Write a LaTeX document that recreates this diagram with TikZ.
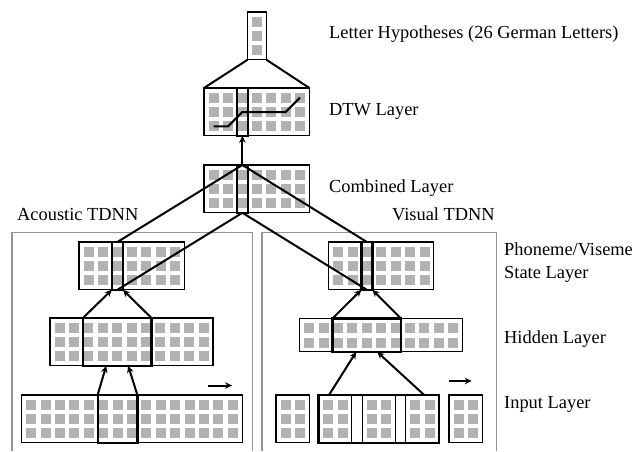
\documentclass[tikz,border=0pt]{standalone}
\usepackage{fontspec}
\setmainfont{Liberation Serif}
\usetikzlibrary{arrows.meta,positioning,fit,calc}

% a layer: box of gray units, top left corner at (x,y)
\newcommand{\unitgrid}[5]{% name, x, y, columns, rows
    \node[layerbox, minimum width={#4*14.4pt+4.6pt}, minimum height={#5*14.4pt+4.6pt}] (#1) at (#2,#3) {};
    \foreach \cx in {1,...,#4}{
        \foreach \ry in {1,...,#5}{
            \fill[unit] ($(#1.north west)+({(\cx-1)*14.4+4.6},{(\ry-1)*14.4+4.6})$) rectangle +(10,10);
        }
    }
}
% thick box round some columns of a layer
\newcommand{\pickcols}[4]{% name, layer, first column, last column
    \node[hilite, fit={($(#2.north west)+({(#3-1)*14.4+4.1},0)$) ($(#2.south west)+({(#4-1)*14.4+15.1},0)$)}] (#1) {};
}

\begin{document}
\begin{tikzpicture}[x=1pt, y=-1pt,
    layerbox/.style={draw, line width=1.1pt, fill=white, inner sep=0pt, outer sep=0pt, anchor=north west},
    unit/.style={fill=gray!60},
    hilite/.style={draw, line width=2.2pt, inner sep=0pt, outer sep=0pt},
    link/.style={line width=2pt},
    arrow/.style={line width=2pt,->,>={Stealth[length=7pt,width=6.5pt]}},
    frame/.style={draw=gray!85, line width=1.2pt},
    tag/.style={anchor=base west, inner sep=0pt, font=\fontsize{18.4}{23}\selectfont, align=left}
]
    \useasboundingbox (0,0) rectangle (643,451);

    % TDNN frames
    \draw[frame] (12,451) |- (252.5,232.5) -- (252.5,451);
    \draw[frame] (262,451) |- (496.5,232.5) -- (496.5,451);
    \node[tag] (actitle) at (17,220.7) {Acoustic TDNN};
    \node[tag, anchor=base east] (vstitle) at (495,220.7) {Visual TDNN};

    % Upper layers
    \unitgrid{letters}{247.5}{12}{1}{3}
    \unitgrid{dtw}{204}{88}{7}{3}
    \unitgrid{combined}{204}{165}{7}{3}

    % Acoustic TDNN
    \unitgrid{acstate}{79}{242}{7}{3}
    \unitgrid{achidden}{50}{318}{11}{3}
    \unitgrid{acinput}{21.5}{395}{15}{3}

    % Visual TDNN
    \unitgrid{vsstate}{328.5}{242}{7}{3}
    \unitgrid{vshidden}{299.5}{318.5}{11}{2}
    \unitgrid{vsin1}{276}{395}{2}{3}
    \unitgrid{vsin2}{318.5}{395}{2}{3}
    \unitgrid{vsin3}{362.3}{395}{2}{3}
    \unitgrid{vsin4}{405.8}{395}{2}{3}
    \unitgrid{vsin5}{449}{395}{2}{3}

    % Windows
    \pickcols{dtwpick}{dtw}{3}{3}
    \pickcols{combpick}{combined}{3}{3}
    \pickcols{acstatepick}{acstate}{3}{3}
    \pickcols{achidpick}{achidden}{3}{7}
    \pickcols{acinpick}{acinput}{6}{8}
    \pickcols{vsstatepick}{vsstate}{3}{3}
    \pickcols{vshidpick}{vshidden}{3}{7}
    \node[hilite, fit=(vsin2)(vsin4)] (vsinpick) {};

    % DTW path
    \draw[link, shift={(dtw.north west)}] (9.6,38.4) -- (24,38.4) -- (38.4,24) -- (81.6,24) -- (96,9.6);

    % Connections
    \draw[link] (letters.south west) -- (dtw.north west);
    \draw[link] (letters.south east) -- (dtw.north east);
    \draw[arrow] (combpick.north) -- (dtwpick.south);
    \draw[link] (combpick.north) -- (acstatepick.north);
    \draw[link] (combpick.south) -- (acstatepick.south);
    \draw[link] (combpick.north) -- (vsstatepick.north);
    \draw[link] (combpick.south) -- (vsstatepick.south);

    \draw[arrow] (achidpick.north west) -- (acstatepick.south west);
    \draw[arrow] (achidpick.north east) -- (acstatepick.south east);
    \draw[arrow] (acinpick.north west) -- ($(achidpick.south)+(-11,0)$);
    \draw[arrow] (acinpick.north east) -- ($(achidpick.south)+(11,0)$);

    \draw[arrow] (vshidpick.north west) -- (vsstatepick.south west);
    \draw[arrow] (vshidpick.north east) -- (vsstatepick.south east);
    \draw[arrow] ($(vsinpick.north west)+(10.5,0)$) -- ($(vshidpick.south)+(-10.5,0)$);
    \draw[arrow] ($(vsinpick.north east)+(-15,0)$) -- ($(vshidpick.south)+(10.5,0)$);

    % Time shift
    \coordinate (acshift) at ($(acinput.north east)+(-34,-9.5)$);
    \coordinate (vsshift) at ($(vsin5.north)+(-16.4,-14)$);
    \draw[arrow] (acshift) -- ++(24,0);
    \draw[arrow] (vsshift) -- ++(22.4,0);

    % Layer names
    \node[tag] (lettertag) at (329,38.3) {Letter Hypotheses (26 German Letters)};
    \node[tag] (dtwtag) at (329,115) {DTW Layer};
    \node[tag] (combtag) at (329,192) {Combined Layer};
    \node[tag] (statetag) at (504,278) {Phoneme/Viseme\\State Layer};
    \node[tag] (hiddentag) at (504,343) {Hidden Layer};
    \node[tag] (inputtag) at (504,408) {Input Layer};
\end{tikzpicture}
\end{document}
